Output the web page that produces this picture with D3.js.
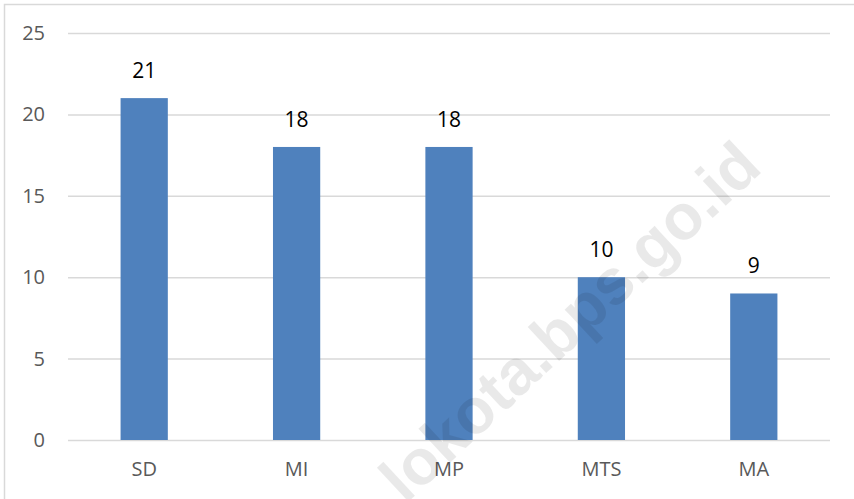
<!DOCTYPE html>
<html>
<head>
<meta charset="utf-8">
<script src="https://cdn.jsdelivr.net/npm/d3@7/dist/d3.min.js"></script>
<style>
html,body{margin:0;padding:0;background:#fff;}
svg{display:block;}
</style>
</head>
<body>
<svg id="chart" width="854" height="499"></svg>
<script>
const categories = ["SD", "MI", "MP", "MTS", "MA"];
const values = [21, 18, 18, 10, 9];
const yTicks = [0, 5, 10, 15, 20, 25];
const watermark = "lokota.bps.go.id";

(function () {
const svg = d3.select("#chart");
const W = 854, H = 499;
const mLeft = 68, mRight = 830, mTop = 33, mBottom = 440;
const font = "'Open Sans', 'Noto Sans', sans-serif";

// outer border
svg.append("rect").attr("x", 4.5).attr("y", 4.5).attr("width", W + 10).attr("height", H + 10)
  .attr("fill", "#fff").attr("stroke", "#d9d9d9").attr("stroke-width", 1.5);

const x = d3.scaleBand().domain(categories).range([mLeft, mRight]).paddingInner(0.69).paddingOuter(0.345);
const y = d3.scaleLinear().domain([0, 25]).range([mBottom, mTop]);

// gridlines + y ticks via axis
const yAxis = d3.axisLeft(y).tickValues(yTicks).tickSize(-(mRight - mLeft)).tickPadding(23);
const gy = svg.append("g").attr("transform", `translate(${mLeft},0)`).call(yAxis);
gy.select(".domain").remove();
gy.selectAll(".tick line").attr("stroke", "#d9d9d9").attr("stroke-width", 1.5);
gy.selectAll(".tick text").attr("fill", "#595959").style("font-family", font).style("font-size", "20px");

// bars
svg.append("g").selectAll("rect").data(values).join("rect")
  .attr("x", (d, i) => x(categories[i]))
  .attr("width", x.bandwidth())
  .attr("y", d => y(d))
  .attr("height", d => y(0) - y(d))
  .attr("fill", "#4F81BD");

// value labels
svg.append("g").selectAll("text").data(values).join("text")
  .attr("x", (d, i) => x(categories[i]) + x.bandwidth() / 2)
  .attr("y", d => y(d) - 20)
  .attr("text-anchor", "middle")
  .style("font-family", font).style("font-size", "21px").attr("fill", "#000")
  .text(d => d);

// x axis labels
const xAxis = d3.axisBottom(x).tickSize(0).tickPadding(22);
const gx = svg.append("g").attr("transform", `translate(0,${mBottom})`).call(xAxis);
gx.select(".domain").remove();
gx.selectAll(".tick text").attr("fill", "#595959").style("font-family", font).style("font-size", "20px");

// watermark
svg.append("text")
  .attr("transform", "translate(764,170) rotate(-43)")
  .attr("text-anchor", "end")
  .style("font-family", "'Liberation Sans', Arial, sans-serif").style("font-size", "64px").style("font-weight", "bold")
  .attr("fill", "#000").attr("fill-opacity", 0.085)
  .text(watermark);
})();
</script>
</body>
</html>
